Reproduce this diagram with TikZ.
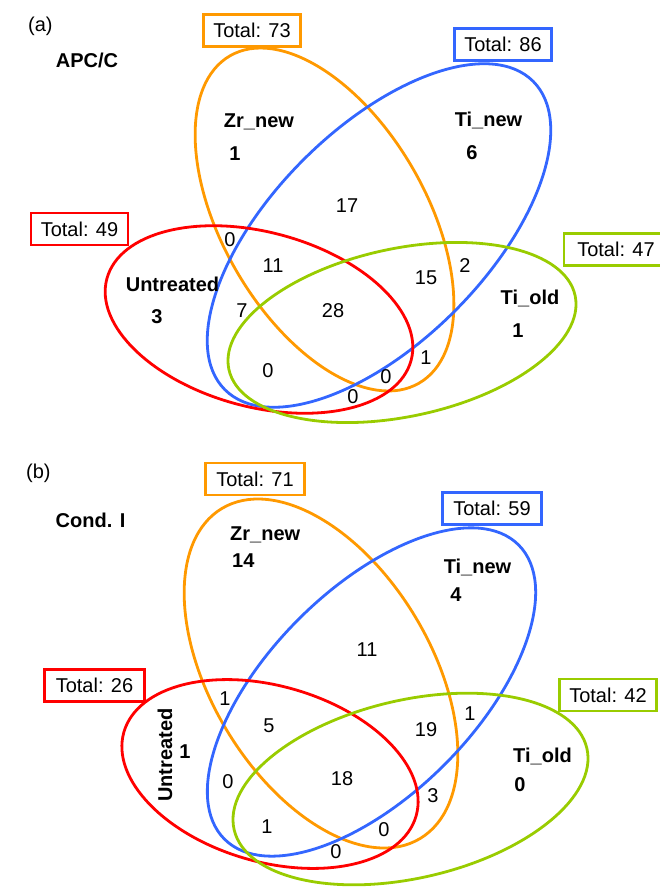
\documentclass[tikz,border=0pt]{standalone}
\usepackage{fontspec}
\setmainfont{Liberation Sans}
\definecolor{vorange}{RGB}{255,153,0}
\definecolor{vblue}{RGB}{51,102,255}
\definecolor{vred}{RGB}{255,0,0}
\definecolor{vgreen}{RGB}{153,204,0}
\begin{document}
\begin{tikzpicture}[x=1pt,y=-1pt,
  txt/.style={font=\fontsize{20}{24}\selectfont, inner sep=0pt, anchor=base},
  btxt/.style={font=\fontsize{20}{24}\selectfont\bfseries, inner sep=0pt, anchor=base},
  venn/.style={line width=2.8pt},
  totbox/.style={draw=#1, line width=2.8pt, font=\fontsize{20}{24}\selectfont, inner sep=0pt, minimum height=32pt, minimum width=97pt, fill=white}
]
\useasboundingbox (0,0) rectangle (660,888);
\clip (0,0) rectangle (660,888);

% ---------------- panel (a) ----------------
\draw[venn, vorange] (324.5,219.5) ellipse [x radius=189, y radius=102, rotate=-60];
\draw[venn, vblue] (379,235.5) ellipse [x radius=218, y radius=107, rotate=45];
\draw[venn, vred] (259,319.5) ellipse [x radius=157.5, y radius=87.4, rotate=-15];
\draw[venn, vgreen] (402,332.5) ellipse [x radius=177, y radius=84, rotate=12];

\node[txt, anchor=base west] (pa) at (28,32) {(a)};
\node[btxt] (apc) at (87,68) {APC/C};

\node[totbox=vorange] (ta1) at (252,30.5) {Total: 73};
\node[totbox=vblue] (ta2) at (503,44.5) {Total: 86};
\node[totbox=vred] (ta3) at (79.5,229) {Total: 49};
\node[totbox=vgreen, minimum width=104pt] (ta4) at (616,249.5) {Total: 47};

\node[btxt] (zra) at (259,128) {Zr\_new};
\node[btxt] (zrna) at (235,160) {1};
\node[btxt] (tina) at (488.5,127) {Ti\_new};
\node[btxt] (tinna) at (472,159) {6};
\node[btxt] (unta) at (172.5,291) {Untreated};
\node[btxt] (untna) at (157,323) {3};
\node[btxt] (tioa) at (530,304) {Ti\_old};
\node[btxt] (tiona) at (518,337) {1};

\node[txt] (a17) at (347,212) {17};
\node[txt] (a0a) at (230,246) {0};
\node[txt] (a11) at (273,272) {11};
\node[txt] (a7) at (242,317) {7};
\node[txt] (a28) at (333,317) {28};
\node[txt] (a15) at (426,284) {15};
\node[txt] (a2) at (465,272) {2};
\node[txt] (a0b) at (268,377) {0};
\node[txt] (a1) at (426,364) {1};
\node[txt] (a0c) at (386,383) {0};
\node[txt] (a0d) at (353,403) {0};

% ---------------- panel (b) ----------------
\draw[venn, vorange] (321,673.5) ellipse [x radius=192.5, y radius=110, rotate=-59];
\draw[venn, vblue] (371.5,692) ellipse [x radius=208, y radius=103, rotate=45];
\draw[venn, vred] (270,774) ellipse [x radius=152, y radius=88, rotate=-16];
\draw[venn, vgreen] (410.5,789) ellipse [x radius=181, y radius=89, rotate=13];

\node[txt, anchor=base west] (pb) at (26,478) {(b)};
\node[btxt] (cond) at (90.5,527) {Cond. I};

\node[totbox=vorange, minimum width=99pt] (tb1) at (255,479) {Total: 71};
\node[totbox=vblue, minimum width=99pt] (tb2) at (492,508.5) {Total: 59};
\node[totbox=vred, minimum width=100pt] (tb3) at (94.5,685.5) {Total: 26};
\node[totbox=vgreen] (tb4) at (608,695) {Total: 42};

\node[btxt, anchor=base west] (zrb) at (230,540) {Zr\_new};
\node[btxt, anchor=base west] (zrnb) at (232,567) {14};
\node[btxt] (tinb) at (477.5,573) {Ti\_new};
\node[btxt] (tinnb) at (456,601) {4};
\node[btxt, anchor=center, rotate=90] (untb) at (165,755) {Untreated};
\node[btxt] (untnb) at (185,758) {1};
\node[btxt] (tiob) at (542.5,762) {Ti\_old};
\node[btxt] (tionb) at (520,791) {0};

\node[txt] (b11) at (367,656) {11};
\node[txt] (b1a) at (225,705) {1};
\node[txt] (b5) at (269,732) {5};
\node[txt] (b0a) at (228,788) {0};
\node[txt] (b18) at (342,785) {18};
\node[txt] (b19) at (426,736) {19};
\node[txt] (b1b) at (470,720) {1};
\node[txt] (b3) at (433,802) {3};
\node[txt] (b1c) at (267,833) {1};
\node[txt] (b0b) at (384,836) {0};
\node[txt] (b0c) at (336,858) {0};
\end{tikzpicture}
\end{document}
